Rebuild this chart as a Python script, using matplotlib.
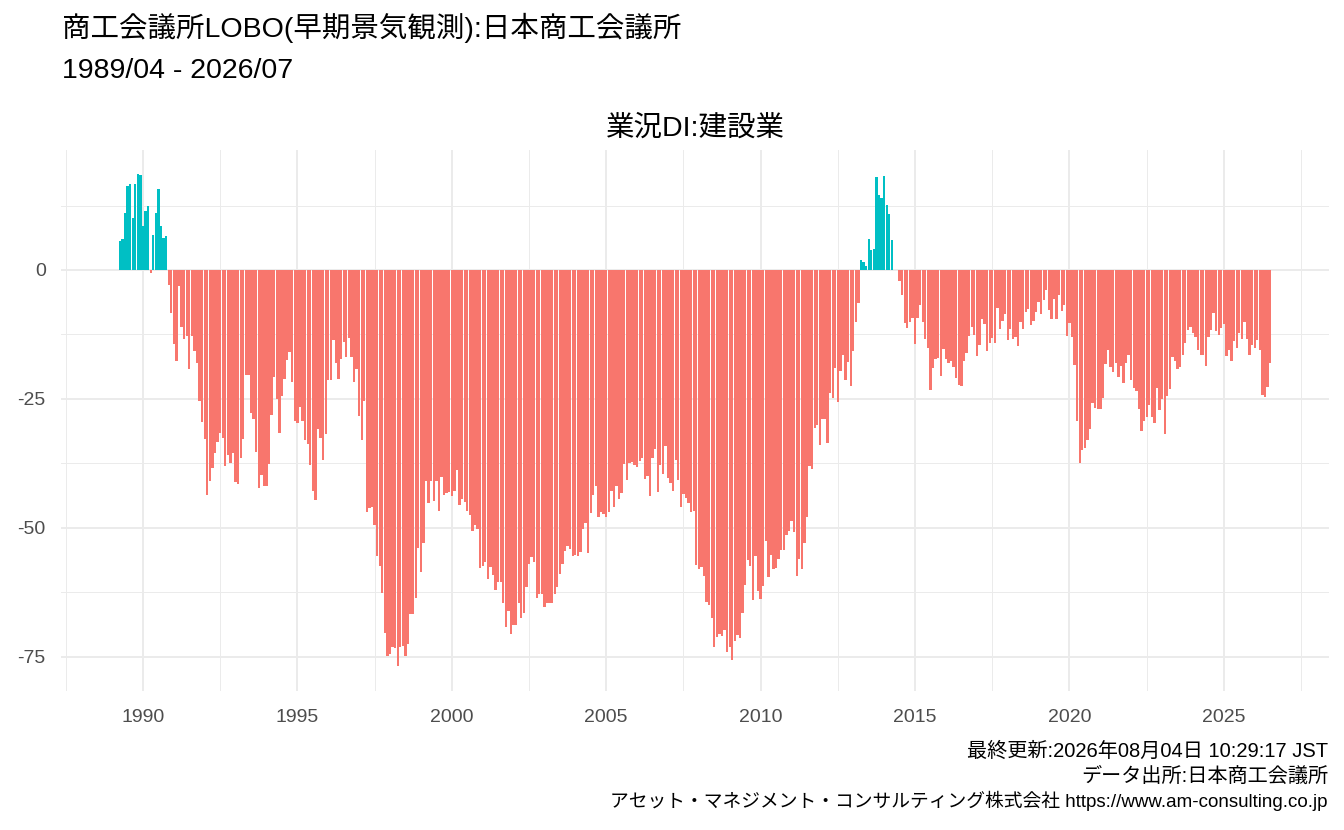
import numpy as np
import matplotlib
matplotlib.use("Agg")
import matplotlib.pyplot as plt

FONTS = ['Liberation Sans', 'Noto Sans CJK JP', 'DejaVu Sans']
plt.rcParams['font.family'] = FONTS

# 業況DI:建設業, monthly, 1989/04 - 2026/07
start_year, start_month = 1989, 4
di_1989_04 = [5.6, 6.0, 11, 16.3, 16.7, 10, 16.7, 18.6, 18.4, 8.5, 11.4, 12.4, -0.5, 6.8, 11, 15.7, 8.5, 6.2, 6.6]
di_1990_11 = [-3.0, -8.3, -14.4, -17.6, -3.2, -11, -13.3, -12.8, -19.2, -12.9, -15.7, -18, -25.4, -29.5, -32.8, -43.6, -40.9]
di_1992_04 = [-38.5, -35.5, -33.4, -31.7, -32.5, -38.1, -35.8, -37.5, -35.6, -41.2, -41.6, -36.4, -32.7, -20.3, -20.3,
              -27.8, -29, -35.3, -42.2, -39.7, -42, -42, -37.7, -28.2, -20.8, -25.1, -31.7, -24.5, -21.2, -17.5, -16,
              -21.8, -29.2, -29.7, -26.6, -29.2, -33, -33.8, -37.9]
di_1995_07 = [-42.8, -44.7, -30.8, -32.5, -36.8, -31.9, -21.4, -21.4, -13.6, -18.1, -21.2, -17.3, -14, -16.8, -13.2,
              -16.9, -21.8, -19.2, -28.4, -32.9, -25.5, -46.9, -46.1, -45.9, -49.5, -55.5, -57.4, -62.6, -70.5, -74.9,
              -74.5, -73.1, -73.4, -76.9, -73.2, -73, -74.9, -72.5]
di_1998_09 = [-66.8, -66.8, -63.6, -53.9, -58.6, -53, -41, -45.3, -41, -44.9, -41, -46.7, -40.1, -43.6, -43.3, -43,
              -43.8, -42.8, -38.8, -45.5, -44.4, -45, -46.7, -47.5, -50.6, -49.5, -50.2, -57.8, -57.4, -56.6, -59.9,
              -57.6, -59.2, -62.1, -60.6, -60.6, -64.6]
di_2001_10 = [-69.3, -66.2, -70.7, -68.9, -68.9, -64.6, -67.5, -66.6, -61.5, -57, -55.6, -56.6, -63.6, -62.8, -62.8,
              -65.4, -64.6, -64.6, -64.6, -62.8, -61.5, -59, -57, -54.5, -53.5, -54.2, -55.4, -55.3, -55.4, -54.7,
              -50.3, -49, -54.9, -47.2, -43.6, -42, -48, -47]
di_2004_12 = [-47.3, -48, -47, -42.8, -45.9, -42, -44.5, -43.2, -37.7, -40.8, -37.5, -37.3, -37.9, -38.2, -37.1,
              -36.4, -40.6, -39.9, -43.9, -36.4, -34.8, -43, -37.9, -39.5, -34.2, -40.3, -41.4, -42.8, -36.8, -40.8,
              -45.9, -43.4, -44.2, -45.3, -47, -46.7, -57.2, -58]
di_2008_02 = [-57.6, -59.4, -64.4, -64.9, -67.5, -73.1, -71.2, -70.6, -71, -69.9, -74.2, -73.1, -75.7, -72, -70.9,
              -71.4, -66.6, -61.1, -56.3, -57.5, -64.1, -55.5, -62.3, -63.8, -61.3, -52.5, -59.5, -55.3, -58, -57.8,
              -56, -54.4, -54.4, -51.5, -50.6, -48.6, -50.8, -59.4]
di_2011_04 = [-56, -58, -53, -48, -38.1, -38.7, -30.7, -30, -33.9, -29, -29, -33.5, -23.9, -24.9, -19.1, -25.7,
              -19.6, -16.5, -21.4, -17.9, -22.6, -15.8, -10, -6.5]
di_2013_04 = [1.9, 1.5, 0.7, 6, 3.9, 4, 18, 14.6, 13.9, 18.3, 12.6, 10.8, 5.8, 0, 0]
di_2014_07 = [-2.1, -4.8, -10.3, -11.3, -10, -9.4, -14.4, -9.3, -6.8, -10.1, -13.4, -15.2, -23.2, -19, -17.3, -17.1,
              -20.5, -15.3, -17.3, -18.1, -17.7, -18.8, -21, -22.4, -22.5, -17.7, -16.2, -12.8, -11.1, -12.6, -16.7,
              -14.5, -9.5, -10.5, -15.7, -14.2]
di_2017_07 = [-13.2, -14.2, -7.4, -11.4, -9.9, -8.5, -13.6, -11.4, -13.3, -13, -14.7, -10.1, -11.4, -8.1, -7.6,
              -10.6, -9.9, -8.1, -6.2, -8.5, -5.8, -3.8, -7.7, -9.5, -5.6, -9.5, -4.8, -7.9, -6.8, -12.8, -10.3, -13,
              -18.4, -29.2, -37.5, -35, -34.5]
di_2020_08 = [-33, -30.8, -25.8, -26.8, -27, -27, -24.9, -18.3, -15.6, -18.8, -19.8, -18, -20.8, -18.6, -21.9, -18,
              -16.4, -21.4, -22.9, -23.5, -27, -31.3, -29.2, -28.6, -26.2, -28.6, -29.7, -22.9, -27.2, -25.1, -31.9,
              -24.5, -23.1, -16.9, -17.7, -19.2, -18.8]
di_2023_09 = [-16.5, -14.2, -11.6, -11.1, -12.2, -13, -15.5, -16.5, -16.5, -18.6, -13, -11.6, -8.3, -11.8, -12.6,
              -11.2, -10.5, -16.7, -15.5, -17.7, -13.8, -15.2, -12.2, -13.4, -10.1, -13.4, -16.5, -14.5, -15.1, -13.6,
              -15.5, -24.3, -24.7, -22.7, -18]

values = np.array(di_1989_04 + di_1990_11 + di_1992_04 + di_1995_07 + di_1998_09 + di_2001_10 + di_2004_12
                  + di_2008_02 + di_2011_04 + di_2013_04 + di_2014_07 + di_2017_07 + di_2020_08 + di_2023_09)
months = np.arange(len(values))
x = start_year + (start_month - 1 + months) / 12.0

title_line1 = "商工会議所LOBO(早期景気観測):日本商工会議所"
title_line2 = "1989/04 - 2026/07"
panel_title = "業況DI:建設業"
caption_lines = ["最終更新:2026年08月04日 10:29:17 JST",
                 "データ出所:日本商工会議所",
                 "アセット・マネジメント・コンサルティング株式会社 https://www.am-consulting.co.jp"]
x_ticks = [1990, 1995, 2000, 2005, 2010, 2015, 2020, 2025]
y_ticks = [0, -25, -50, -75]

POS = "#00BFC4"
NEG = "#F8766D"
GRID = "#EBEBEB"

fig = plt.figure(figsize=(13.44, 8.30), dpi=100)
ax = fig.add_axes([61 / 1344, 1 - 691 / 830, (1329 - 61) / 1344, (691 - 149.5) / 830])

w = 0.9 / 12
colors = np.where(values > 0, POS, NEG)
ax.bar(x, values, width=w, color=colors, linewidth=0, zorder=2)

# ggplot-like expansion
xmin, xmax = x.min() - w / 2, x.max() + w / 2
xr = xmax - xmin
ax.set_xlim(xmin - 0.05 * xr, xmax + 0.05 * xr)
ymin, ymax = min(values.min(), 0), max(values.max(), 0)
yr = ymax - ymin
ax.set_ylim(ymin - 0.05 * yr, ymax + 0.05 * yr)

ax.set_xticks(x_ticks)
ax.set_xticklabels([str(t) for t in x_ticks])
ax.set_xticks([t - 2.5 for t in x_ticks] + [x_ticks[-1] + 2.5], minor=True)
ax.set_yticks(y_ticks)
ax.set_yticklabels([str(t) for t in y_ticks])
ax.set_yticks([12.5, -12.5, -37.5, -62.5], minor=True)

ax.grid(True, which='major', color=GRID, linewidth=1.4, zorder=0)
ax.grid(True, which='minor', color=GRID, linewidth=0.7, zorder=0)
ax.set_axisbelow(True)
for s in ax.spines.values():
    s.set_visible(False)
ax.tick_params(which='both', length=0)
ax.tick_params(axis='x', pad=13, labelsize=14, labelcolor='#4D4D4D')
ax.tick_params(axis='y', pad=11, labelsize=14, labelcolor='#4D4D4D')

fig.text(62 / 1344, 1 - 28 / 830, title_line1, fontsize=20.5, ha='left', va='center', color='black')
fig.text(62 / 1344, 1 - 71 / 830, title_line2, fontsize=20.5, ha='left', va='center', color='black')
fig.text(695 / 1344, 1 - 128 / 830, panel_title, fontsize=20.5, ha='center', va='center', color='black')

cap_sizes = [14.5, 14.5, 13.5]
for i, line in enumerate(caption_lines):
    fig.text(1328 / 1344, 1 - (751 + 25 * i) / 830, line, fontsize=cap_sizes[i], ha='right', va='center',
             color='black')

fig.savefig("out.png", dpi=100, facecolor='white')
